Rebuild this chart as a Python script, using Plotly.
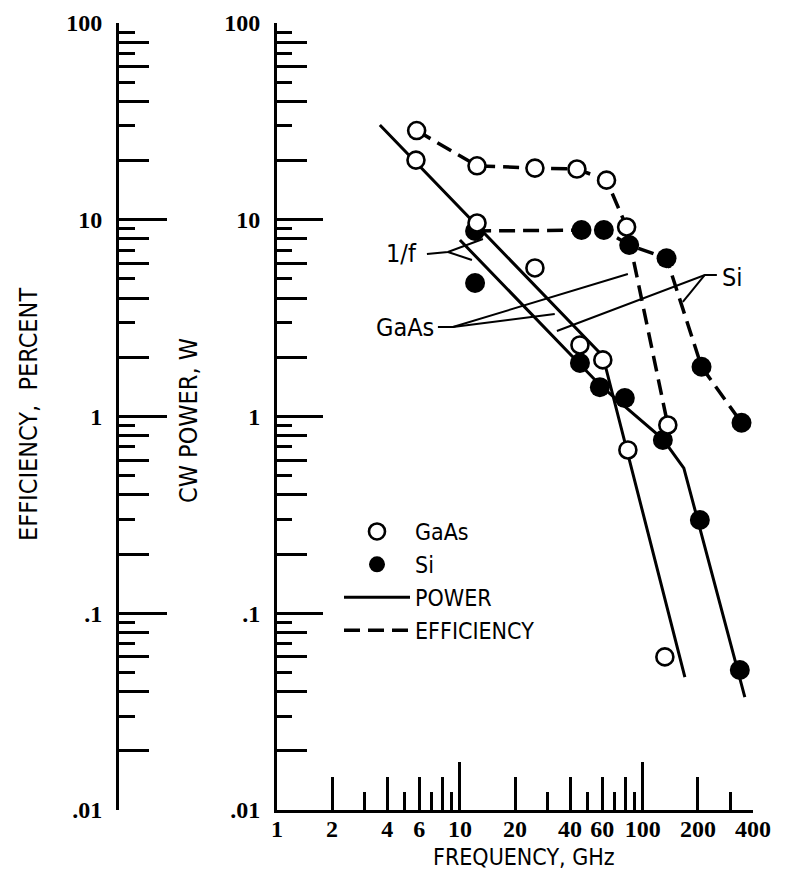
import math
import plotly.graph_objects as go

# ---------------- data ----------------
# measured points (frequency in GHz)
gaas_power_f = [5.75, 12.4, 25.7, 45.3, 60.4, 82.8, 131.9]
gaas_power_w = [20.1, 9.63, 5.69, 2.31, 1.94, 0.676, 0.060]
si_power_f = [12.1, 45.3, 58.2, 79.7, 128.6, 204.9, 338.8]
si_power_w = [4.77, 1.87, 1.41, 1.24, 0.760, 0.298, 0.0515]
gaas_eff_f = [5.80, 12.4, 25.7, 43.6, 63.3, 81.5, 136.9]
gaas_eff_pct = [28.4, 18.8, 18.3, 18.1, 15.9, 9.19, 0.905]
si_eff_f = [12.1, 46.2, 61.2, 84.2, 134.7, 209.3, 346.2]
si_eff_pct = [8.77, 8.87, 8.87, 7.44, 6.37, 1.79, 0.930]
# hand-drawn power trend lines
gaas_fit_f = [3.65, 60.4, 169.7]
gaas_fit_w = [30.3, 2.03, 0.0474]
si_fit_f = [10.0, 58.95, 128.6, 167.5, 360.9]
si_fit_w = [7.89, 1.43, 0.768, 0.547, 0.0375]

# ticks
x_label_vals = [1, 2, 4, 6, 10, 20, 40, 60, 100, 200, 400]
x_label_text = ["1", "2", "4", "6", "10", "20", "40", "60", "100", "200", "400"]
x_major = [10, 100]
x_even = [2, 4, 6, 8, 20, 40, 60, 80, 200, 400]
x_odd = [3, 5, 7, 9, 30, 50, 70, 90, 300]
y_major = [0.01, 0.1, 1, 10, 100]
y_major_text = [".01", ".1", "1", "10", "100"]
y_even = [0.02, 0.04, 0.06, 0.08, 0.2, 0.4, 0.6, 0.8, 2, 4, 6, 8, 20, 40, 60, 80]
y_odd = [0.03, 0.05, 0.07, 0.09, 0.3, 0.5, 0.7, 0.9, 3, 5, 7, 9, 30, 50, 70, 90]

# ---------------- layout constants ----------------
# the page body has an 8px margin, so the figure is sized to fill the 809x880 window
OFF = 8
W, H = 809 - 2 * OFF, 880 - 2 * OFF
PLOT_L, PLOT_R, PLOT_T, PLOT_B = 117, 753, 23, 810      # in window pixels
AXIS_X0 = 277                                            # power axis (1 GHz) in window pixels
ML = PLOT_L - OFF
MR = W - (PLOT_R - OFF)
MT = PLOT_T - OFF
MB = H - (PLOT_B - OFF)
PW = PLOT_R - PLOT_L
PH = PLOT_B - PLOT_T
X_DOM0 = (AXIS_X0 - PLOT_L) / PW
XR = [0, math.log10(400)]
YR = [-2, 2]


def pxx(px):
    return (px - PLOT_L) / PW


def pxy(py):
    return (PLOT_B - py) / PH


TXT = "Liberation Sans Narrow, DejaVu Sans Condensed, Arial Narrow, sans-serif"
NUM = "Liberation Serif, DejaVu Serif, serif"
lg = math.log10

OPEN = dict(symbol="circle", size=17, color="white", line=dict(color="black", width=2.6))
FILL = dict(symbol="circle", size=20, color="black", line=dict(color="black", width=0))
DASH = "16px,8px"

fig = go.Figure()

# trend lines (power)
fig.add_trace(go.Scatter(x=gaas_fit_f, y=gaas_fit_w, mode="lines",
                         line=dict(color="black", width=3), showlegend=False, hoverinfo="skip"))
fig.add_trace(go.Scatter(x=si_fit_f, y=si_fit_w, mode="lines",
                         line=dict(color="black", width=3), showlegend=False, hoverinfo="skip"))
# efficiency dashed lines
fig.add_trace(go.Scatter(x=gaas_eff_f, y=gaas_eff_pct, mode="lines",
                         line=dict(color="black", width=3.5, dash=DASH), showlegend=False))
fig.add_trace(go.Scatter(x=si_eff_f, y=si_eff_pct, mode="lines",
                         line=dict(color="black", width=3.5, dash=DASH), showlegend=False))

# leader lines for labels
lead_style = dict(color="black", width=2)
fig.add_trace(go.Scatter(x=[6.60, 8.60, 13.36, None, 8.60, 11.63],
                         y=[6.70, 6.86, 7.98, None, 6.86, 6.24],
                         mode="lines", line=lead_style, showlegend=False, hoverinfo="skip"))
fig.add_trace(go.Scatter(x=[7.58, 9.16, 82.8, None, 9.16, 33.0],
                         y=[2.85, 2.85, 5.30, None, 2.85, 3.32],
                         mode="lines", line=lead_style, showlegend=False, hoverinfo="skip"))
fig.add_trace(go.Scatter(x=[253.8, 218.2, 33.9, None, 218.2, 165.4],
                         y=[5.24, 5.24, 2.72, None, 5.24, 3.82],
                         mode="lines", line=lead_style, showlegend=False, hoverinfo="skip"))

# markers: filled first, open on top
fig.add_trace(go.Scatter(x=si_power_f, y=si_power_w, mode="markers", marker=FILL, showlegend=False))
fig.add_trace(go.Scatter(x=si_eff_f, y=si_eff_pct, mode="markers", marker=FILL, showlegend=False))
fig.add_trace(go.Scatter(x=gaas_power_f, y=gaas_power_w, mode="markers", marker=OPEN, showlegend=False))
fig.add_trace(go.Scatter(x=gaas_eff_f, y=gaas_eff_pct, mode="markers", marker=OPEN, showlegend=False))

# legend entries
fig.add_trace(go.Scatter(x=[None], y=[None], mode="markers", marker=OPEN, name="GaAs"))
fig.add_trace(go.Scatter(x=[None], y=[None], mode="markers", marker=FILL, name="Si"))
fig.add_trace(go.Scatter(x=[None], y=[None], mode="lines", line=dict(color="black", width=3), name="POWER"))
fig.add_trace(go.Scatter(x=[None], y=[None], mode="lines",
                         line=dict(color="black", width=3.5, dash=DASH), name="EFFICIENCY"))


def tick_axis(vals, length, **kw):
    d = dict(type="log", tickmode="array", tickvals=vals, ticks="inside", ticklen=length,
             tickwidth=2.5, tickcolor="black", showgrid=False, zeroline=False,
             showticklabels=False, showline=False, automargin=False, fixedrange=True)
    d.update(kw)
    return d


numfont = dict(family=NUM, size=24, color="black", weight="bold")

layout = dict(
    width=W, height=H,
    margin=dict(l=ML, r=MR, t=MT, b=MB, pad=0),
    paper_bgcolor="white", plot_bgcolor="white",
    showlegend=True,
    # x axes
    xaxis=tick_axis(x_major, 48, range=XR, domain=[X_DOM0, 1], anchor="y",
                    showline=True, linewidth=3, linecolor="black"),
    xaxis2=tick_axis(x_even, 33, range=XR, domain=[X_DOM0, 1], anchor="y", overlaying="x", side="bottom"),
    xaxis3=tick_axis(x_odd, 18, range=XR, domain=[X_DOM0, 1], anchor="y", overlaying="x", side="bottom"),
    xaxis4=tick_axis(x_label_vals, 0, range=XR, domain=[X_DOM0, 1], anchor="y", overlaying="x",
                     side="bottom", ticks="", showticklabels=True, ticktext=x_label_text,
                     tickfont=numfont, ticklabelstandoff=2),
    # power axis (at f = 1 GHz)
    yaxis=tick_axis(y_major, 46, range=YR, anchor="x", side="left", showline=True, linewidth=3,
                    linecolor="black", showticklabels=True, ticktext=y_major_text,
                    tickfont=numfont, ticklabelstandoff=9),
    yaxis2=tick_axis(y_even, 30, range=YR, anchor="x", overlaying="y", side="left"),
    yaxis3=tick_axis(y_odd, 15, range=YR, anchor="x", overlaying="y", side="left"),
    # efficiency axis (free, at left edge)
    yaxis4=tick_axis(y_major, 48, range=YR, anchor="free", position=0, overlaying="y", side="left",
                     showline=True, linewidth=3, linecolor="black", showticklabels=True,
                     ticktext=y_major_text, tickfont=numfont, ticklabelstandoff=9),
    yaxis5=tick_axis(y_even, 31, range=YR, anchor="free", position=0, overlaying="y", side="left"),
    yaxis6=tick_axis(y_odd, 17, range=YR, anchor="free", position=0, overlaying="y", side="left"),
    legend=dict(x=pxx(339), y=pxy(510), xanchor="left", yanchor="top",
                bgcolor="rgba(0,0,0,0)", borderwidth=0, font=dict(family=TXT, size=23, color="black"),
                itemwidth=66, tracegroupgap=0, traceorder="normal"),
)
fig.update_layout(**layout)

# invisible traces to activate the overlay axes
for xa, ya in [("x2", "y"), ("x3", "y"), ("x4", "y"), ("x", "y2"), ("x", "y3"),
               ("x", "y4"), ("x", "y5"), ("x", "y6")]:
    fig.add_trace(go.Scatter(x=[None], y=[None], xaxis=xa, yaxis=ya, showlegend=False, hoverinfo="skip"))

txtfont = dict(family=TXT, size=25, color="black")
ann = [
    dict(text="FREQUENCY, GHz", xref="paper", yref="paper", x=pxx(524), y=pxy(857),
         xanchor="center", yanchor="middle", showarrow=False,
         font=dict(family=TXT, size=23, color="black")),
    dict(text="CW POWER, W", xref="paper", yref="paper", x=pxx(188), y=pxy(421),
         textangle=-90, xanchor="center", yanchor="middle", showarrow=False, font=txtfont),
    dict(text="EFFICIENCY,  PERCENT", xref="paper", yref="paper", x=pxx(28), y=pxy(415),
         textangle=-90, xanchor="center", yanchor="middle", showarrow=False, font=txtfont),
    dict(text="1/f", xref="x", yref="y", x=lg(4.82), y=lg(6.70), xanchor="center", yanchor="middle",
         showarrow=False, font=txtfont),
    dict(text="GaAs", xref="x", yref="y", x=lg(5.01), y=lg(2.85), xanchor="center", yanchor="middle",
         showarrow=False, font=txtfont),
    dict(text="Si", xref="x", yref="y", x=lg(308.4), y=lg(5.06), xanchor="center", yanchor="middle",
         showarrow=False, font=txtfont),
]
fig.update_layout(annotations=ann)

fig.write_html("out.html")
